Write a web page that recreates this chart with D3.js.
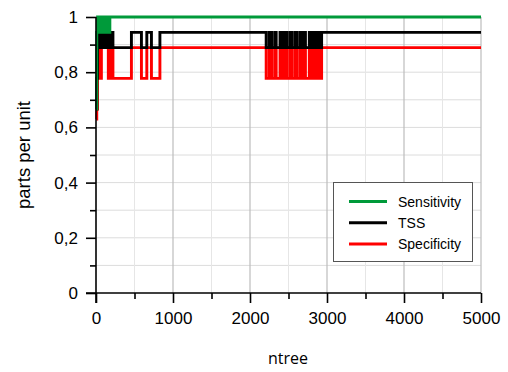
<!DOCTYPE html>
<html>
<head>
<meta charset="utf-8">
<script src="https://cdn.jsdelivr.net/npm/d3@7/dist/d3.min.js"></script>
<style>
html,body{margin:0;padding:0;background:#fff;}
svg{display:block;}
</style>
</head>
<body>
<svg id="chart" width="508" height="372"></svg>
<script>
// ---- data ----
const ntree = [1,10,20,30,40,50,60,70,80,90,100,110,120,130,140,150,160,170,180,190,200,210,
  220,460,590,660,720,830,
  2210,2250,2280,2320,2340,2390,2420,2450,2480,2520,2550,2590,2610,2650,2680,2700,2720,2770,2790,2820,2840,2870,2890,2910,2920,2930,
  5000];
const sensitivity = [0.6667,0.9444,1,0.9444,1,0.9444,1,0.9444,1,0.9444,1,0.9444,1,0.9444,1,0.9444,1,0.9444,1,1,1,1,
  1,1,1,1,1,1,
  1,1,1,1,1,1,1,1,1,1,1,1,1,1,1,1,1,1,1,1,1,1,1,1,1,1,
  1];
const tss = [0.6667,0.7778,0.8889,0.9444,0.8889,0.9444,0.8889,0.9444,0.8889,0.9444,0.8889,0.9444,0.8889,0.9444,0.8889,0.9444,0.8889,0.9444,0.8889,0.9444,0.8889,0.9444,
  0.8889,0.9444,0.8889,0.9444,0.8889,0.9444,
  0.8889,0.9444,0.8889,0.9444,0.8889,0.9444,0.8889,0.9444,0.8889,0.9444,0.8889,0.9444,0.8889,0.9444,0.8889,0.9444,0.8889,0.9444,0.8889,0.9444,0.8889,0.9444,0.8889,0.9444,0.8889,0.9444,
  0.9444];
const specificity = [0.63,0.6667,0.7778,0.8889,0.7778,0.8889,0.7778,0.8889,0.8889,0.8889,0.8889,0.8889,0.8889,0.8889,0.8889,0.8889,0.7778,0.8889,0.7778,0.8889,0.7778,0.8889,
  0.7778,0.8889,0.7778,0.8889,0.7778,0.8889,
  0.7778,0.8889,0.7778,0.8889,0.7778,0.8889,0.7778,0.8889,0.7778,0.8889,0.7778,0.8889,0.7778,0.8889,0.7778,0.8889,0.7778,0.8889,0.7778,0.8889,0.7778,0.8889,0.7778,0.8889,0.7778,0.8889,
  0.8889];
const xTicks = [0,1000,2000,3000,4000,5000];
const xMinor = [500,1500,2500,3500,4500];
const yTicks = [0,0.2,0.4,0.6,0.8,1];
const yMinor = [0.1,0.3,0.5,0.7,0.9];
const seriesNames = ["Sensitivity","TSS","Specificity"];
const seriesColors = ["#009a3a","#000000","#ff0000"];

// ---- layout ----
const svg = d3.select("#chart");
const x = d3.scaleLinear().domain([0,5000]).range([96,481]);
const y = d3.scaleLinear().domain([0,1]).range([293,17]);
const fmt = d => String(d).replace(".", ",");

// grid
const g = svg.append("g");
g.selectAll(".hg").data(yTicks.concat(yMinor).filter(d=>d>0)).enter().append("line")
  .attr("x1", x(0)).attr("x2", x(5000)).attr("y1", d=>y(d)).attr("y2", d=>y(d))
  .attr("stroke", "#dcdcdc").attr("stroke-width", 1);
g.selectAll(".vgm").data(xMinor).enter().append("line")
  .attr("x1", d=>x(d)).attr("x2", d=>x(d)).attr("y1", y(0)).attr("y2", y(1))
  .attr("stroke", "#e6e6e6").attr("stroke-width", 1);
g.selectAll(".vg").data(xTicks.filter(d=>d>0)).enter().append("line")
  .attr("x1", d=>x(d)).attr("x2", d=>x(d)).attr("y1", y(0)).attr("y2", y(1))
  .attr("stroke", "#bdbdbd").attr("stroke-width", 1.2);

// lines
const data = [sensitivity, tss, specificity];
const line = d3.line().x((d,i)=>x(ntree[i])).y(d=>y(d)).curve(d3.curveStepAfter);
[2,1,0].forEach(k => {
  svg.append("path").datum(data[k])
    .attr("fill","none").attr("stroke", seriesColors[k])
    .attr("stroke-width", 2.9).attr("stroke-linejoin","miter")
    .attr("d", line);
});

// axes
const fontTick = "'Liberation Sans', Arial, sans-serif";
const yAxis = d3.axisLeft(y).tickValues(yTicks).tickFormat(fmt).tickSize(10).tickPadding(8);
const yg = svg.append("g").attr("transform", `translate(${x(0)},0)`).call(yAxis);
const yAxisMinor = d3.axisLeft(y).tickValues(yMinor).tickFormat("").tickSize(6);
const ygm = svg.append("g").attr("transform", `translate(${x(0)},0)`).call(yAxisMinor);
const xAxis = d3.axisBottom(x).tickValues(xTicks).tickFormat(d3.format("d")).tickSize(10).tickPadding(9);
const xg = svg.append("g").attr("transform", `translate(0,${y(0)})`).call(xAxis);
const xAxisMinor = d3.axisBottom(x).tickValues(xMinor).tickFormat("").tickSize(6);
const xgm = svg.append("g").attr("transform", `translate(0,${y(0)})`).call(xAxisMinor);
[yg,ygm,xg,xgm].forEach(a => {
  a.select(".domain").remove();
  a.selectAll("line").attr("stroke","#000").attr("stroke-width",1.6);
  a.selectAll("text").attr("font-family", fontTick).attr("font-size", 17).attr("fill","#000");
});
// axis lines
svg.append("line").attr("x1", x(0)).attr("x2", x(0)).attr("y1", y(1)).attr("y2", y(0)+10)
  .attr("stroke","#000").attr("stroke-width",1.6);
svg.append("line").attr("x1", x(0)-10).attr("x2", x(5000)).attr("y1", y(0)).attr("y2", y(0))
  .attr("stroke","#000").attr("stroke-width",1.6);

// axis titles
svg.append("text").attr("transform", `translate(30,155) rotate(-90)`)
  .attr("text-anchor","middle").attr("font-family", fontTick).attr("font-size", 18.5)
  .text("parts per unit");
svg.append("text").attr("x", 288).attr("y", 364)
  .attr("text-anchor","middle").attr("font-family", "'Open Sans', sans-serif").attr("font-size", 16)
  .text("ntree");

// legend
const lg = svg.append("g");
lg.append("rect").attr("x", 333.5).attr("y", 182.5).attr("width", 139).attr("height", 79)
  .attr("fill","#fff").attr("stroke","#555").attr("stroke-width",1);
seriesNames.forEach((n,i) => {
  const yy = 201.5 + i*21.2;
  lg.append("line").attr("x1",349).attr("x2",387).attr("y1",yy).attr("y2",yy)
    .attr("stroke", seriesColors[i]).attr("stroke-width",3);
  lg.append("text").attr("x",398).attr("y",yy+5).attr("font-family", fontTick)
    .attr("font-size",14).text(n);
});
</script>
</body>
</html>
